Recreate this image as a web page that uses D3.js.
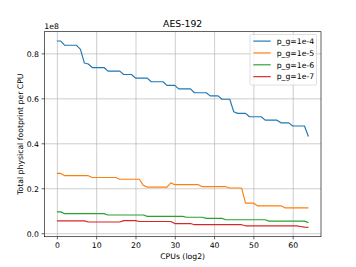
<!DOCTYPE html>
<html>
<head>
<meta charset="utf-8">
<script src="https://cdn.jsdelivr.net/npm/d3@7"></script>
<style>
  body { margin: 0; background: #fff; overflow: hidden; }
  svg { display: block; }
  text { font-family: "DejaVu Sans", sans-serif; fill: #000; }
</style>
</head>
<body>
<div id="canvas"></div>
<script>
// data (values in units of 1e8)
const cpus = d3.range(0, 65);

const pg4 = [
  .855,.855,.836,.836,.836,.836,.818,.757,.753,.737,
  .737,.737,.737,.721,.721,.721,.721,.706,.706,.706,
  .690,.690,.690,.690,.674,.674,.674,.674,.658,.658,
  .658,.642,.642,.642,.642,.625,.625,.625,.625,.611,
  .611,.611,.596,.596,.596,.540,.533,.533,.533,.518,
  .518,.518,.518,.503,.503,.503,.503,.491,.491,.491,
  .477,.477,.477,.477,.430];

const pg5 = [
  .266,.266,.256,.256,.256,.256,.256,.256,.256,.248,
  .248,.248,.248,.248,.248,.248,.240,.240,.240,.240,
  .240,.240,.213,.205,.205,.205,.205,.205,.205,.224,
  .216,.216,.216,.216,.216,.216,.216,.207,.207,.207,
  .207,.207,.207,.207,.201,.201,.201,.201,.134,.134,
  .134,.122,.122,.122,.122,.122,.122,.122,.113,.113,
  .113,.113,.113,.113,.113];

const pg6 = [
  .095,.095,.087,.087,.087,.087,.087,.087,.087,.087,
  .087,.087,.087,.081,.081,.081,.081,.081,.081,.081,
  .081,.081,.081,.075,.075,.075,.075,.075,.075,.075,
  .075,.075,.075,.071,.071,.071,.071,.071,.066,.066,
  .066,.066,.066,.060,.060,.060,.060,.060,.060,.060,
  .060,.060,.060,.060,.054,.054,.054,.054,.054,.054,
  .054,.054,.054,.054,.047];

const pg7 = [
  .055,.055,.055,.055,.055,.055,.055,.055,.050,.050,
  .050,.050,.050,.050,.050,.050,.050,.056,.056,.056,
  .056,.052,.052,.052,.052,.052,.052,.052,.052,.052,
  .043,.043,.043,.043,.043,.038,.038,.038,.038,.038,
  .038,.038,.038,.038,.038,.038,.038,.038,.033,.033,
  .033,.033,.033,.033,.033,.033,.033,.033,.033,.033,
  .033,.033,.030,.027,.026];

const labels = ["p_g=1e-4", "p_g=1e-5", "p_g=1e-6", "p_g=1e-7"];
const colors = ["#1f77b4", "#ff7f0e", "#2ca02c", "#d62728"];
const xTicks = [0, 10, 20, 30, 40, 50, 60];
const yTicks = [0.0, 0.2, 0.4, 0.6, 0.8];

const seriesList = [pg4, pg5, pg6, pg7];

// layout
const width = 356, height = 267;
const margin = { top: 31.7, left: 44.3, bottom: 30.3, right: 35 };
const innerWidth = width - margin.left - margin.right;
const innerHeight = height - margin.top - margin.bottom;
const fs = 7.72;

const svg = d3.select("#canvas").append("svg")
  .attr("width", width).attr("height", height);

// matplotlib style 5% margins
const xmin = d3.min(cpus), xmax = d3.max(cpus);
const xpad = (xmax - xmin) * 0.05;
const allVals = seriesList.flat();
const ymin = d3.min(allVals), ymax = d3.max(allVals);
const ypad = (ymax - ymin) * 0.05;

const x = d3.scaleLinear().domain([xmin - xpad, xmax + xpad]).range([0, innerWidth]);
const y = d3.scaleLinear().domain([ymin - ypad, ymax + ypad]).range([innerHeight, 0]);

const g = svg.append("g").attr("transform", `translate(${margin.left},${margin.top})`);

// grid
g.append("g")
  .attr("transform", `translate(0,${innerHeight})`)
  .call(d3.axisBottom(x).tickValues(xTicks).tickSize(-innerHeight).tickFormat(""))
  .call(a => a.select(".domain").remove())
  .call(a => a.selectAll("text").remove())
  .call(a => a.selectAll("line").attr("stroke", "#b0b0b0").attr("stroke-width", 0.62));
g.append("g")
  .call(d3.axisLeft(y).tickValues(yTicks).tickSize(-innerWidth).tickFormat(""))
  .call(a => a.select(".domain").remove())
  .call(a => a.selectAll("text").remove())
  .call(a => a.selectAll("line").attr("stroke", "#b0b0b0").attr("stroke-width", 0.62));

// lines
const line = d3.line()
  .x((d, i) => x(cpus[i]))
  .y(d => y(d));

seriesList.forEach((s, k) => {
  g.append("path")
    .datum(s)
    .attr("fill", "none")
    .attr("stroke", colors[k])
    .attr("stroke-width", 1.16)
    .attr("stroke-linejoin", "round")
    .attr("d", line);
});

// axes
const xAxis = g.append("g")
  .attr("transform", `translate(0,${innerHeight})`)
  .call(d3.axisBottom(x).tickValues(xTicks).tickSize(2.7).tickPadding(2.7).tickFormat(d3.format("d")));
const yAxis = g.append("g")
  .call(d3.axisLeft(y).tickValues(yTicks).tickSize(2.7).tickPadding(2.7).tickFormat(d3.format(".1f")));
[xAxis, yAxis].forEach(a => {
  a.attr("font-size", fs).attr("font-family", "DejaVu Sans");
  a.select(".domain").remove();
  a.selectAll("line").attr("stroke", "#000").attr("stroke-width", 0.62);
});
xAxis.selectAll("text").attr("dy", null).attr("y", 5.4 + fs * 0.76);
yAxis.selectAll("text").attr("dy", null).attr("y", fs * 0.36);

// frame
g.append("rect")
  .attr("width", innerWidth).attr("height", innerHeight)
  .attr("fill", "none").attr("stroke", "#000").attr("stroke-width", 0.62);

// texts
svg.append("text")
  .attr("x", margin.left + innerWidth / 2).attr("y", 26.5)
  .attr("text-anchor", "middle").attr("font-size", 9.27)
  .text("AES-192");
svg.append("text")
  .attr("x", margin.left).attr("y", 29.3)
  .attr("font-size", fs)
  .text("1e8");
svg.append("text")
  .attr("x", margin.left + innerWidth / 2).attr("y", 259)
  .attr("text-anchor", "middle").attr("font-size", fs)
  .text("CPUs (log2)");
svg.append("text")
  .attr("transform", `translate(22.5,${margin.top + innerHeight / 2}) rotate(-90)`)
  .attr("text-anchor", "middle").attr("font-size", fs)
  .text("Total physical footprint per CPU");

// legend
const lg = svg.append("g").attr("transform", "translate(250,34.5)");
lg.append("rect")
  .attr("width", 66.5).attr("height", 50.5).attr("rx", 1.5)
  .attr("fill", "#fff").attr("fill-opacity", 0.8)
  .attr("stroke", "#cccccc").attr("stroke-width", 0.62);
labels.forEach((lab, k) => {
  const ly = 6.6 + k * 11.85;
  lg.append("line")
    .attr("x1", 3.3).attr("x2", 20.7).attr("y1", ly).attr("y2", ly)
    .attr("stroke", colors[k]).attr("stroke-width", 1.16);
  lg.append("text")
    .attr("x", 26.7).attr("y", ly + 2.8)
    .attr("font-size", fs)
    .text(lab);
});
</script>
</body>
</html>
